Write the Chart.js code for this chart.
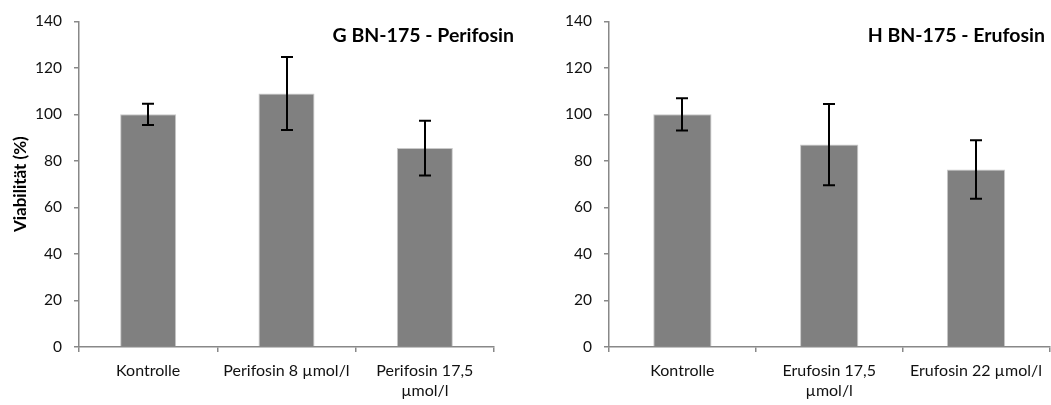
<!DOCTYPE html>
<html>
<head>
<meta charset="utf-8">
<script src="https://cdn.jsdelivr.net/npm/chart.js@4/dist/chart.umd.min.js"></script>
<style>
  html, body { margin: 0; padding: 0; background: #fff; }
  body { width: 1051px; height: 405px; position: relative; overflow: hidden; }
  .panel { position: absolute; top: 0; height: 405px; }
  #p1 { left: 0; width: 530px; }
  #p2 { left: 530px; width: 521px; }
  canvas { display: block; }
</style>
</head>
<body>
<div class="panel" id="p1"><canvas id="c1" width="530" height="405"></canvas></div>
<div class="panel" id="p2"><canvas id="c2" width="521" height="405"></canvas></div>
<script>
// Panel G: BN-175 with Perifosin
const perifosinLabels = ['Kontrolle', 'Perifosin 8 µmol/l', ['Perifosin 17,5', 'µmol/l']];
const perifosinMeans = [100, 109, 85.5];
const perifosinErrors = [4.6, 15.7, 11.8];

// Panel H: BN-175 with Erufosin
const erufosinLabels = ['Kontrolle', ['Erufosin 17,5', 'µmol/l'], 'Erufosin 22 µmol/l'];
const erufosinMeans = [100, 87, 76.3];
const erufosinErrors = [6.9, 17.5, 12.6];

const yTicks = [0, 20, 40, 60, 80, 100, 120, 140];

const FONT = 'Lato, "Open Sans", sans-serif';
const AXIS_GREY = '#888888';
const BAR_GREY = '#808080';

// Draws symmetric error bars with caps on top of each bar
const errorBarPlugin = {
  id: 'errorBars',
  afterDatasetsDraw(chart, args, opts) {
    const meta = chart.getDatasetMeta(0);
    const yScale = chart.scales.y;
    const ctx = chart.ctx;
    const means = chart.data.datasets[0].data;
    const errs = opts.errors || [];
    ctx.save();
    ctx.strokeStyle = '#000';
    ctx.lineWidth = 2;
    meta.data.forEach((bar, i) => {
      const x = Math.round(bar.x);
      const yTop = yScale.getPixelForValue(means[i] + errs[i]);
      const yBot = yScale.getPixelForValue(means[i] - errs[i]);
      const cap = 6;
      ctx.beginPath();
      ctx.moveTo(x, yTop); ctx.lineTo(x, yBot);
      ctx.moveTo(x - cap, yTop); ctx.lineTo(x + cap, yTop);
      ctx.moveTo(x - cap, yBot); ctx.lineTo(x + cap, yBot);
      ctx.stroke();
    });
    ctx.restore();
  }
};

// Panel heading placed inside the plot at the top right
const panelTitlePlugin = {
  id: 'panelTitle',
  afterDraw(chart, args, opts) {
    const ctx = chart.ctx;
    ctx.save();
    ctx.font = 'bold 19.5px ' + FONT;
    ctx.fillStyle = '#000';
    ctx.textAlign = 'right';
    ctx.textBaseline = 'middle';
    ctx.fillText(opts.text, opts.right, opts.y);
    ctx.restore();
  }
};

function makeChart(canvasId, labels, means, errors, cfg) {
  return new Chart(document.getElementById(canvasId), {
    type: 'bar',
    data: {
      labels: labels,
      datasets: [{
        data: means,
        backgroundColor: BAR_GREY,
        borderColor: '#c9c9c9',
        borderWidth: 1,
        categoryPercentage: 1,
        barPercentage: cfg.barPct
      }]
    },
    options: {
      responsive: false,
      animation: false,
      layout: { padding: { left: 0, top: 17, right: cfg.padRight, bottom: 0 } },
      plugins: {
        legend: { display: false },
        tooltip: { enabled: false },
        errorBars: { errors: errors },
        panelTitle: { text: cfg.title, right: cfg.titleRight, y: 36 }
      },
      scales: {
        x: {
          grid: {
            display: true,
            drawOnChartArea: false,
            drawTicks: true,
            tickLength: 5,
            color: AXIS_GREY,
            lineWidth: 1.5,
            offset: true
          },
          border: { display: true, color: AXIS_GREY, width: 1.5 },
          ticks: {
            color: '#111',
            font: { family: FONT, size: 16, lineHeight: 1.25 },
            maxRotation: 0,
            minRotation: 0,
            autoSkip: false,
            padding: 9
          },
          afterFit(scale) { scale.height = 58; }
        },
        y: {
          min: 0,
          max: 140,
          afterBuildTicks(scale) { scale.ticks = yTicks.map(v => ({ value: v })); },
          grid: {
            display: true,
            drawOnChartArea: false,
            drawTicks: true,
            tickLength: 5,
            color: AXIS_GREY,
            lineWidth: 1.5
          },
          border: { display: true, color: AXIS_GREY, width: 1.5 },
          ticks: {
            color: '#111',
            font: { family: FONT, size: 15.5 },
            padding: 12
          },
          title: {
            display: cfg.yTitle !== '',
            text: cfg.yTitle,
            color: '#000',
            font: { family: FONT, size: 17, weight: 'bold' },
            padding: { top: 10, bottom: 0 }
          },
          afterFit(scale) { scale.width = 79; }
        }
      }
    },
    plugins: [errorBarPlugin, panelTitlePlugin]
  });
}

makeChart('c1', perifosinLabels, perifosinMeans, perifosinErrors, {
  barPct: 0.405, padRight: 36, title: 'G BN-175 - Perifosin', titleRight: 514, yTitle: 'Viabilität (%)'
});
makeChart('c2', erufosinLabels, erufosinMeans, erufosinErrors, {
  barPct: 0.397, padRight: 0, title: 'H BN-175 - Erufosin', titleRight: 515, yTitle: ''
});
</script>
</body>
</html>
